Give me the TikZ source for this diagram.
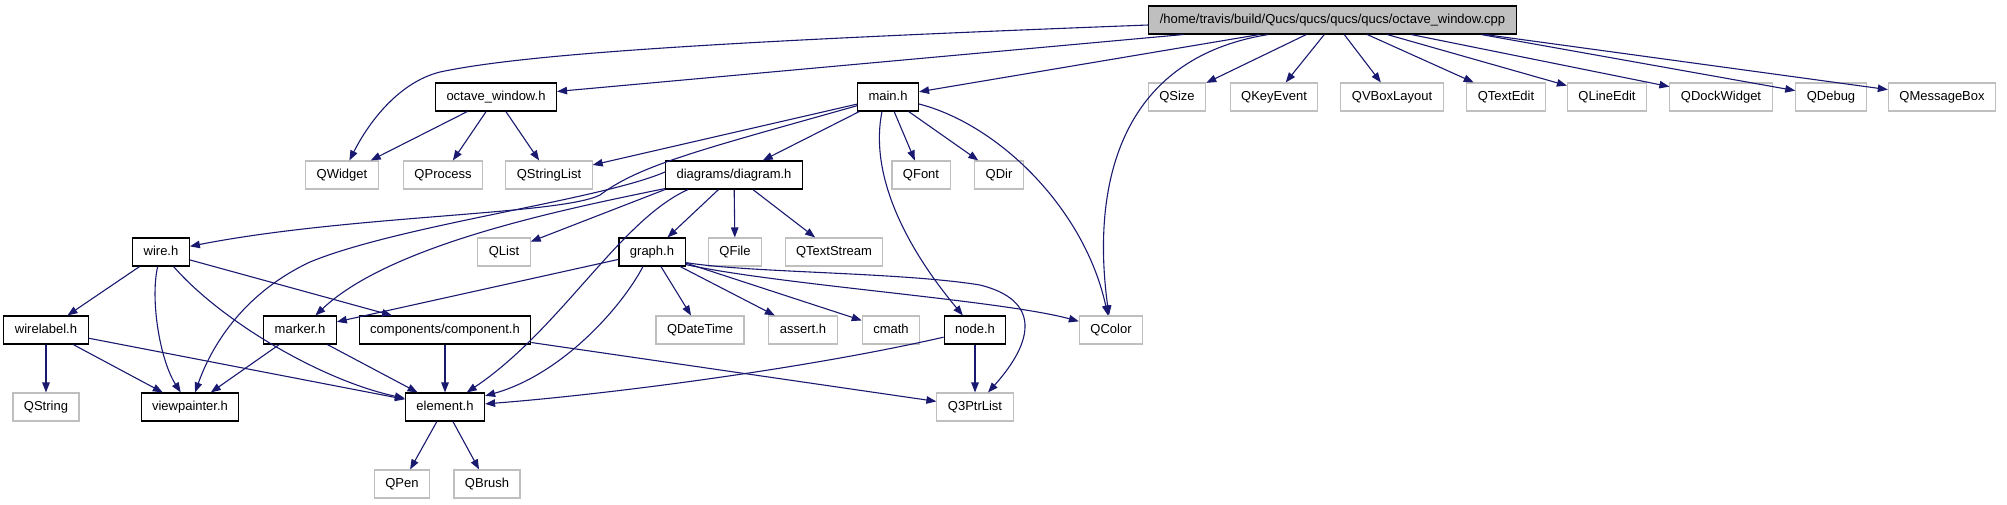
\documentclass[tikz,border=0pt]{standalone}
\usepackage{fontspec}
\setmainfont{Liberation Sans}
\usetikzlibrary{arrows.meta}
\definecolor{edgeblue}{HTML}{191970}
\definecolor{extgrey}{HTML}{BFBFBF}
\begin{document}
\begin{tikzpicture}[x=1pt,y=-1pt,
  box/.style={rectangle, minimum height=28pt, inner xsep=11pt, inner ysep=0pt,
    font=\fontsize{13}{15}\selectfont, text height=9.5pt, text depth=2.5pt, line width=1.1pt},
  doc/.style={box, draw=black, fill=white},
  ext/.style={box, draw=extgrey, fill=white},
  rootbox/.style={box, draw=black, fill=extgrey},
  dep/.style={draw=edgeblue, line width=1.1pt, -{Triangle[length=10pt,width=7.5pt]}}]
\useasboundingbox (0,0) rectangle (2007,504);

% nodes
\node[rootbox] (nRoot) at (1332.5,20) {/home/travis/build/Qucs/qucs/qucs/qucs/octave\_window.cpp};
\node[doc] (nOctave) at (496,97) {octave\_window.h};
\node[doc] (nMain) at (888,97) {main.h};
\node[ext] (nQSize) at (1177,97) {QSize};
\node[ext] (nQKeyEvent) at (1274,97) {QKeyEvent};
\node[ext] (nQVBoxLayout) at (1392,97) {QVBoxLayout};
\node[ext] (nQTextEdit) at (1506,97) {QTextEdit};
\node[ext] (nQLineEdit) at (1607,97) {QLineEdit};
\node[ext] (nQDockWidget) at (1721,97) {QDockWidget};
\node[ext] (nQDebug) at (1831,97) {QDebug};
\node[ext] (nQMessageBox) at (1942,97) {QMessageBox};
\node[ext] (nQWidget) at (342,175) {QWidget};
\node[ext] (nQProcess) at (443,175) {QProcess};
\node[ext] (nQStringList) at (549,175) {QStringList};
\node[doc] (nDiagram) at (734,175) {diagrams/diagram.h};
\node[ext] (nQFont) at (921,175) {QFont};
\node[ext] (nQDir) at (999,175) {QDir};
\node[doc] (nWire) at (161,252) {wire.h};
\node[ext] (nQList) at (504,252) {QList};
\node[doc] (nGraph) at (652,252) {graph.h};
\node[ext] (nQFile) at (735,252) {QFile};
\node[ext] (nQTextStream) at (834,252) {QTextStream};
\node[doc] (nWirelabel) at (46,330) {wirelabel.h};
\node[doc] (nMarker) at (300,330) {marker.h};
\node[doc] (nComponent) at (445,330) {components/component.h};
\node[ext] (nQDateTime) at (700,330) {QDateTime};
\node[ext] (nAssert) at (803,330) {assert.h};
\node[ext] (nCmath) at (891,330) {cmath};
\node[doc] (nNodeh) at (975,330) {node.h};
\node[ext] (nQColor) at (1111,330) {QColor};
\node[ext] (nQString) at (46,407) {QString};
\node[doc] (nViewpainter) at (190,407) {viewpainter.h};
\node[doc] (nElement) at (445,407) {element.h};
\node[ext] (nQ3PtrList) at (975,407) {Q3PtrList};
\node[ext] (nQPen) at (402,484) {QPen};
\node[ext] (nQBrush) at (487,484) {QBrush};

% root edges
\draw[dep] ([yshift=-5pt]nRoot.west) .. controls (700,42) and (520,55) .. (440,72)
  .. controls (400,82) and (370,120) .. (nQWidget);
\draw[dep] ([xshift=35pt]nRoot.south west) -- (nOctave);
\draw[dep] ([xshift=111pt]nRoot.south west) -- (nMain);
\draw[dep] ([xshift=120pt]nRoot.south west) .. controls (1110,60) and (1093,200) .. (nQColor);
\draw[dep] ([xshift=158pt]nRoot.south west) -- (nQSize);
\draw[dep] ([xshift=176pt]nRoot.south west) -- (nQKeyEvent);
\draw[dep] ([xshift=196pt]nRoot.south west) -- (nQVBoxLayout);
\draw[dep] ([xshift=219pt]nRoot.south west) -- (nQTextEdit);
\draw[dep] ([xshift=239pt]nRoot.south west) -- (nQLineEdit);
\draw[dep] ([xshift=263pt]nRoot.south west) -- (nQDockWidget);
\draw[dep] ([xshift=333pt]nRoot.south west) -- (nQDebug);
\draw[dep] ([xshift=337pt]nRoot.south west) -- (nQMessageBox);

% octave_window.h
\draw[dep] (nOctave) -- (nQWidget);
\draw[dep] (nOctave) -- (nQProcess);
\draw[dep] (nOctave) -- (nQStringList);

% main.h
\draw[dep] (nMain) -- (nQStringList);
\draw[dep] (nMain) .. controls (700,150) and (640,165) .. (600,195)
  .. controls (560,215) and (350,215) .. (nWire);
\draw[dep] (nMain) -- (nDiagram);
\draw[dep] (nMain) -- (nQFont);
\draw[dep] (nMain) -- (nQDir);
\draw[dep] ([xshift=-6pt]nMain.south) .. controls (870,170) and (900,240) .. (nNodeh);
\draw[dep] ([yshift=-7pt]nMain.east) .. controls (1000,125) and (1085,210) .. (nQColor);

% diagram.h
\draw[dep] ([yshift=3pt]nDiagram.west) .. controls (600,200) and (400,225) .. (310,262)
  .. controls (240,295) and (210,350) .. (nViewpainter);
\draw[dep] ([yshift=1pt]nDiagram.south west) .. controls (560,210) and (390,245) .. (nMarker);
\draw[dep] (nDiagram.south west) -- (nQList);
\draw[dep] ([xshift=23pt]nDiagram.south west) .. controls (620,220) and (560,330) .. (nElement);
\draw[dep] (nDiagram) -- (nGraph);
\draw[dep] (nDiagram) -- (nQFile);
\draw[dep] (nDiagram) -- (nQTextStream);

% graph.h
\draw[dep] (nGraph) -- (nMarker);
\draw[dep] ([xshift=-9pt]nGraph.south) .. controls (620,310) and (560,375) .. (nElement);
\draw[dep] (nGraph) -- (nQDateTime);
\draw[dep] (nGraph) -- (nAssert);
\draw[dep] (nGraph) -- (nCmath);
\draw[dep] ([yshift=2pt]nGraph.south east) .. controls (780,285) and (1000,300) .. (nQColor);
\draw[dep] ([yshift=4pt]nGraph.south east) .. controls (750,273) and (900,272) .. (980,285)
  .. controls (1040,300) and (1035,340) .. (nQ3PtrList);

% wire.h
\draw[dep] (nWire) -- (nWirelabel);
\draw[dep] (nWire) .. controls (150,300) and (160,360) .. (nViewpainter);
\draw[dep] (nWire) .. controls (220,320) and (320,380) .. (nElement);
\draw[dep] (nWire) -- (nComponent);

% wirelabel.h
\draw[dep] (nWirelabel) -- (nQString);
\draw[dep] (nWirelabel) -- (nViewpainter);
\draw[dep] (nWirelabel) -- (nElement);

% marker.h
\draw[dep] (nMarker) -- (nViewpainter);
\draw[dep] (nMarker) -- (nElement);

% component.h
\draw[dep] (nComponent) -- (nElement);
\draw[dep] (nComponent) -- (nQ3PtrList);

% node.h
\draw[dep] (nNodeh) .. controls (800,370) and (600,395) .. (nElement);
\draw[dep] (nNodeh) -- (nQ3PtrList);

% element.h
\draw[dep] (nElement) -- (nQPen);
\draw[dep] (nElement) -- (nQBrush);
\end{tikzpicture}
\end{document}
